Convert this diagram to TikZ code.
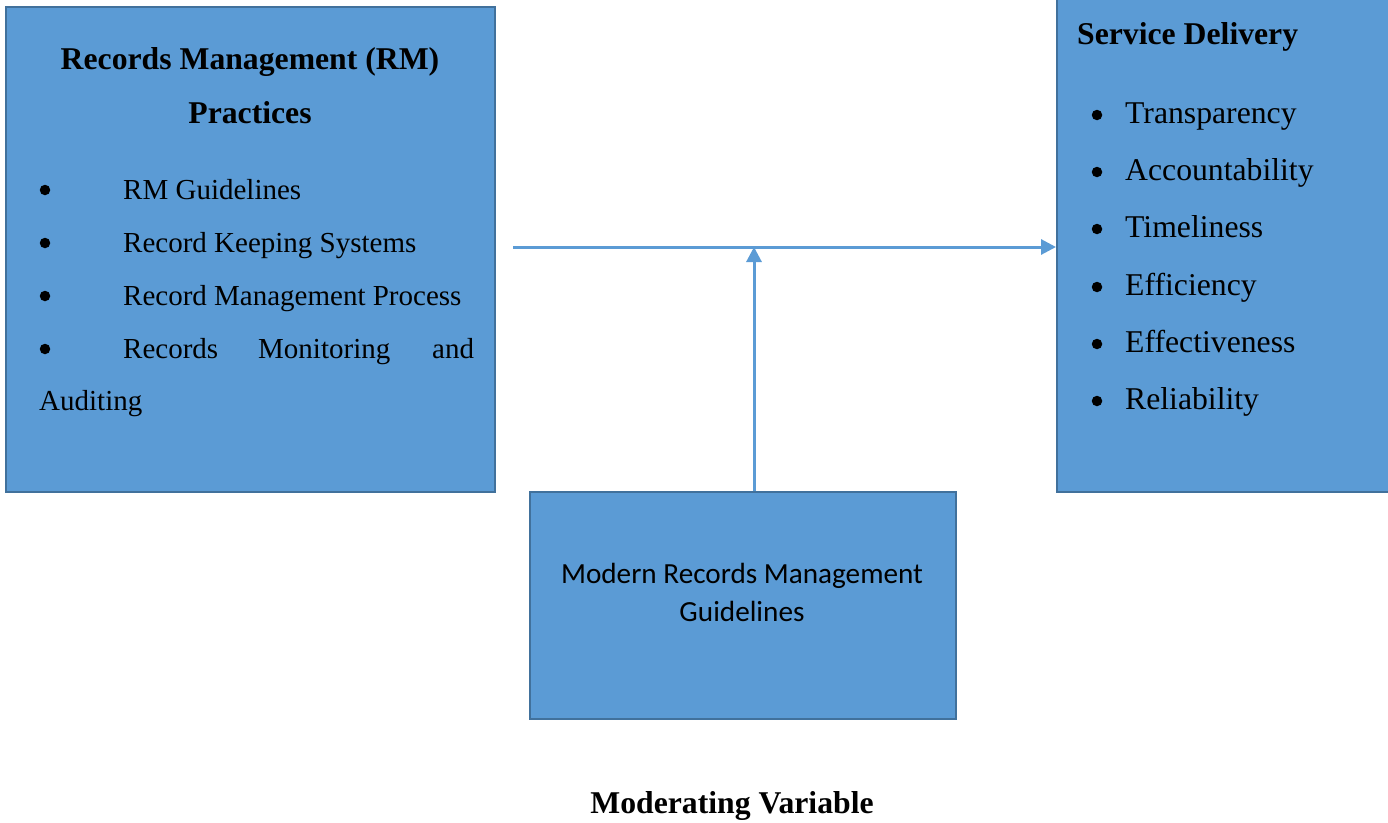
\documentclass[tikz,border=0pt]{standalone}
\usepackage{fontspec}
\setmainfont{Liberation Serif}
\newfontfamily\calibri{Carlito}
\usetikzlibrary{arrows.meta}
\definecolor{boxfill}{HTML}{5B9BD5}
\definecolor{boxline}{HTML}{41719C}
\tikzset{
  panel/.style={draw=boxline, line width=2pt, fill=boxfill, inner sep=0pt, anchor=north west},
  link/.style={draw=boxfill, line width=3pt, -{Triangle[length=15pt,width=15pt]}},
  title/.style={font=\fontsize{31.7}{36}\selectfont\bfseries, inner sep=0pt, anchor=base},
  itemL/.style={font=\fontsize{29}{33}\selectfont, inner sep=0pt, anchor=base west},
  itemR/.style={font=\fontsize{31.7}{36}\selectfont, inner sep=0pt, anchor=base west},
  dot/.style={circle, fill=black, inner sep=0pt, minimum size=10.5pt},
  modtext/.style={font=\calibri\fontsize{29.2}{33}\selectfont, inner sep=0pt, anchor=base}
}
\begin{document}
\begin{tikzpicture}[x=1pt, y=-1pt]
\useasboundingbox (0,0) rectangle (1388,822);

% boxes
\node[panel, minimum width=489pt, minimum height=485pt] (rm) at (5,6) {};
\node[panel, minimum width=332pt, minimum height=496pt] (sd) at (1056,-5) {};
\node[panel, minimum width=426pt, minimum height=227pt] (mod) at (529,491) {};

% left box: title and items
\node[title] (rmt1) at (250,69) {Records Management (RM)};
\node[title] (rmt2) at (250,123) {Practices};
\node[dot] (b1) at (45,190) {};
\node[itemL] (i1) at (123,199) {RM Guidelines};
\node[dot] (b2) at (45,243) {};
\node[itemL] (i2) at (123,252) {Record Keeping Systems};
\node[dot] (b3) at (45,296) {};
\node[itemL] (i3) at (123,305) {Record Management Process};
\node[dot] (b4) at (45,349) {};
\node[itemL] (i4a) at (123,358) {Records};
\node[itemL] (i4b) at (258,358) {Monitoring};
\node[itemL] (i4c) at (432,358) {and};
\node[itemL] (i4d) at (39,410) {Auditing};

% right box: title and items
\node[title, anchor=base west] (sdt) at (1077,44) {Service Delivery};
\node[dot] (r1) at (1097,115) {};
\node[itemR] (s1) at (1125,123) {Transparency};
\node[dot] (r2) at (1097,172) {};
\node[itemR] (s2) at (1125,180) {Accountability};
\node[dot] (r3) at (1097,229) {};
\node[itemR] (s3) at (1125,237) {Timeliness};
\node[dot] (r4) at (1097,287) {};
\node[itemR] (s4) at (1125,295) {Efficiency};
\node[dot] (r5) at (1097,344) {};
\node[itemR] (s5) at (1125,352) {Effectiveness};
\node[dot] (r6) at (1097,401) {};
\node[itemR] (s6) at (1125,409) {Reliability};

% moderating box text
\node[modtext] (m1) at (742,583) {Modern Records Management};
\node[modtext] (m2) at (742,621) {Guidelines};
\node[title] (mv) at (732,813) {Moderating Variable};

% connectors
\coordinate (start) at (513,247);
\coordinate (join) at (754,247);
\draw[link] (start) -- (start -| sd.west);
\draw[link] (mod.north -| join) -- (join);
\end{tikzpicture}
\end{document}
